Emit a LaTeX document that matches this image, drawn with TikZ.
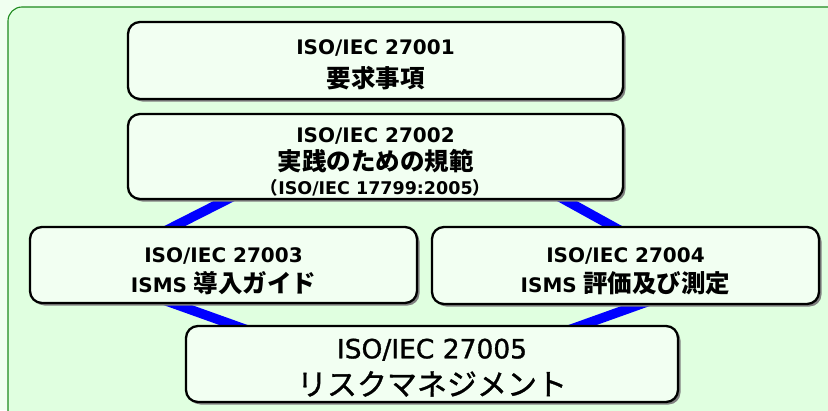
\documentclass[tikz,border=0pt]{standalone}
\usepackage{fontspec}
\setmainfont{DejaVu Sans}
\newfontfamily\lat{DejaVu Sans}
\newfontfamily\cjk{Noto Sans CJK JP}
\newfontfamily\latmed{DejaVu Sans}[FakeBold=1.2]
\newfontfamily\cjkmed{Noto Sans CJK JP}[FakeBold=1.2]
\usetikzlibrary{shadows}
\definecolor{outerbg}{HTML}{F0FFF0}
\definecolor{framefill}{HTML}{E0FFE0}
\definecolor{frameline}{HTML}{1E8A1E}
\definecolor{boxfill}{HTML}{F2FFF2}
\newcommand\textlat[1]{{\lat\bfseries #1}}
\newcommand\textcjk[1]{{\cjk\bfseries\fontsize{24.5}{31}\selectfont #1}}
\tikzset{
  stdbox/.style={draw=black, line width=2.3pt, rounded corners=12pt, fill=boxfill,
    drop shadow={shadow xshift=2.5pt, shadow yshift=-2.5pt, fill=black!50, opacity=1},
    align=center, inner sep=0pt},
  link/.style={draw=blue, line width=9.5pt},
}
\begin{document}
\begin{tikzpicture}[x=1pt,y=-1pt]
\useasboundingbox (0,0) rectangle (828,410);
\fill[outerbg] (0,0) rectangle (828,410);
\draw[frameline, fill=framefill, line width=1.1pt, rounded corners=14pt] (8,7) rectangle (870,440);
% connector end points
\coordinate (ula) at (236,195);
\coordinate (ulb) at (163,232);
\coordinate (ura) at (556,195);
\coordinate (urb) at (623,232);
\coordinate (lla) at (158,298);
\coordinate (llb) at (253,332);
\coordinate (lra) at (658,298);
\coordinate (lrb) at (563,332);
\draw[link] (ula) -- (ulb);
\draw[link] (ura) -- (urb);
\draw[link] (lla) -- (llb);
\draw[link] (lra) -- (lrb);
% boxes
\node[stdbox, minimum width=495pt, minimum height=77pt, font=\fontsize{20}{33}\selectfont] (b1) at (375.5,60.5)
  {\rule{0pt}{24pt}\textlat{ISO/IEC 27001}\\\textcjk{要求事項}};
\node[stdbox, minimum width=495pt, minimum height=85pt, font=\fontsize{20}{26}\selectfont] (b2) at (375.5,156.5)
  {\rule{0pt}{26pt}\textlat{ISO/IEC 27002}\\[2.5pt]\textcjk{実践のための規範}\\[-2pt]{\fontsize{17.5}{20}\selectfont\bfseries{\cjk （}\lat ISO/IEC 17799:2005{\cjk ）}}};
\node[stdbox, minimum width=387pt, minimum height=76pt, font=\fontsize{20}{30}\selectfont] (b3) at (223.5,265)
  {\rule{0pt}{27pt}\textlat{ISO/IEC 27003}\\\textlat{ISMS} \textcjk{導入ガイド}};
\node[stdbox, minimum width=387pt, minimum height=77pt, font=\fontsize{20}{30}\selectfont] (b4) at (625.5,265.5)
  {\rule{0pt}{27pt}\textlat{ISO/IEC 27004}\\\textlat{ISMS} \textcjk{評価及び測定}};
\node[stdbox, minimum width=492pt, minimum height=76pt, font=\fontsize{26.5}{37}\selectfont] (b5) at (432,364)
  {\rule{0pt}{27pt}{\latmed ISO/IEC 27005}\\{\cjkmed\fontsize{30}{37}\selectfont リスクマネジメント}};
\end{tikzpicture}
\end{document}
